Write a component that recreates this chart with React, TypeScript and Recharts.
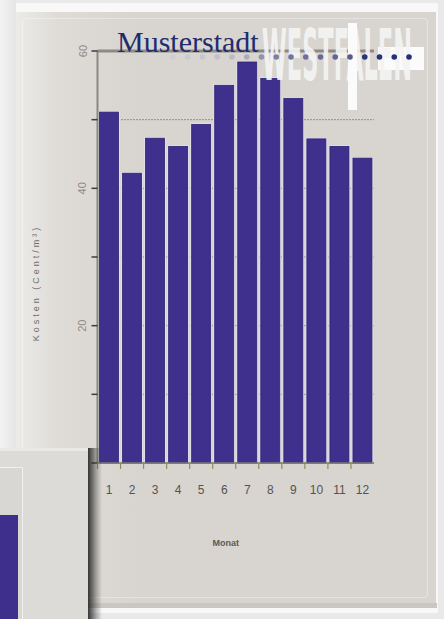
import { Bar, BarChart, CartesianGrid, Label, ReferenceLine, XAxis, YAxis } from 'recharts';

// monthly values
const months = ['1', '2', '3', '4', '5', '6', '7', '8', '9', '10', '11', '12'];
const costs = [51.1, 42.2, 47.3, 46.1, 49.3, 55.0, 58.4, 56.0, 53.1, 47.2, 46.1, 44.4];
const yTicks = [0, 10, 20, 30, 40, 50, 60];
const yLabelTicks = [20, 40, 60];

const data = months.map((m, i) => ({ month: m, cost: costs[i] }));

// decorative dot row of the logo
const dotColors = [
  '#cfcdd2', '#cbc9cf', '#c7c5cd', '#c2c0cb', '#bcbac8', '#acaabe', '#9391b1', '#7f7da5',
  '#76749f', '#706e9b', '#6a6897', '#636292', '#5a5a8d', '#29347b', '#263279', '#253179', '#243078',
];

const BarShape = (props: any) => {
  const { x, y, width, height } = props;
  return (
    <g>
      <rect x={x - 1.3} y={y - 1} width={width + 2.6} height={height + 1} fill='#e3e1ee' />
      <rect x={x} y={y} width={width} height={height} fill='#40308d' stroke='#2d2373' strokeWidth={0.8} />
    </g>
  );
};

const YTick = (props: any) => {
  const { x, y, payload } = props;
  if (!yLabelTicks.includes(payload.value)) return null;
  const tx = x - 3;
  return (
    <text
      x={tx}
      y={y}
      transform={`rotate(-90 ${tx} ${y})`}
      textAnchor='middle'
      fontSize={11}
      fontFamily='Liberation Sans, Arial, sans-serif'
      fill='#8d8b88'
    >
      {payload.value}
    </text>
  );
};

const XTick = (props: any) => {
  const { x, y, payload } = props;
  const half = payload.offset ?? 11.5;
  return (
    <g>
      <line x1={x - half} x2={x - half} y1={y - 8} y2={y - 2} stroke='#8f8d5c' strokeWidth={1.2} />
      <text
        x={x}
        y={y + 23}
        textAnchor='middle'
        fontSize={12}
        fontFamily='Liberation Sans, Arial, sans-serif'
        fill='#55534f'
      >
        {payload.value}
      </text>
    </g>
  );
};

const YLabel = (props: any) => {
  const { viewBox } = props;
  const cx = viewBox.x + 21;
  const cy = viewBox.y + viewBox.height / 2 + 26;
  return (
    <text
      x={cx}
      y={cy}
      transform={`rotate(-90 ${cx} ${cy})`}
      textAnchor='middle'
      fontSize={9}
      letterSpacing={3}
      fontFamily='Liberation Sans, Arial, sans-serif'
      fill='#6f6d68'
    >
      Kosten (Cent/m³)
    </text>
  );
};

export default function App() {
  return (
    <div
      style={{
        position: 'absolute',
        left: 0,
        top: 0,
        width: 444,
        height: 619,
        overflow: 'hidden',
        background: '#e9e9e9',
      }}
    >
      <div style={{ position: 'absolute', left: 0, top: 0, width: 16, height: 619, background: 'linear-gradient(90deg,#f3f3f3,#e4e4e4)' }} />
      <div style={{ position: 'absolute', left: 16, top: 3, width: 422, height: 610, background: '#f8f8f8' }} />
      <div
        style={{
          position: 'absolute',
          left: 16,
          top: 12,
          width: 420,
          height: 591,
          background: 'linear-gradient(90deg,#ecebe8 0px,#dfdcd8 40px,#d8d5d1 120px,#d8d5d1 100%)',
        }}
      />
      <div style={{ position: 'absolute', left: 16, top: 603, width: 421, height: 5, background: '#cac7c3' }} />
      <div
        style={{
          position: 'absolute',
          left: 22,
          top: 18,
          width: 404,
          height: 578,
          border: '1px solid rgba(255,255,255,0.35)',
          borderRadius: 4,
        }}
      />

      <div style={{ position: 'absolute', left: 0, top: 0 }}>
        <BarChart
          width={444}
          height={619}
          data={data}
          barCategoryGap={2}
          margin={{ top: 51, right: 70, bottom: 56, left: 17.5 }}
        >
          <CartesianGrid vertical={false} stroke='#4a4845' strokeDasharray='1 2' />
          <XAxis
            dataKey='month'
            height={100}
            axisLine={{ stroke: '#7d7a76', strokeWidth: 1.5 }}
            tickLine={false}
            tick={<XTick />}
            interval={0}
          >
            <Label
              value='Monat'
              position='insideBottom'
              offset={17}
              dx={-10}
              fontSize={9}
              fontWeight='bold'
              fontFamily='Liberation Sans, Arial, sans-serif'
              fill='#5a5854'
            />
          </XAxis>
          <YAxis
            width={80}
            domain={[0, 60]}
            ticks={yTicks}
            interval={0}
            axisLine={{ stroke: '#8a8782', strokeWidth: 2 }}
            tickLine={{ stroke: '#3d3b38', strokeWidth: 1.5 }}
            tickSize={6}
            tick={<YTick />}
          >
            <Label content={<YLabel />} />
          </YAxis>
          <YAxis
            yAxisId='r'
            orientation='right'
            width={0}
            domain={[0, 60]}
            tick={false}
            tickLine={false}
            axisLine={{ stroke: '#a8a49f', strokeWidth: 1 }}
          />
          <ReferenceLine y={60} stroke='#8d8984' strokeWidth={3} />
          <Bar dataKey='cost' shape={<BarShape />} isAnimationActive={false} />
        </BarChart>
      </div>

      <svg
        width={444}
        height={619}
        style={{ position: 'absolute', left: 0, top: 0, pointerEvents: 'none' }}
      >
        <text
          x={117}
          y={52}
          fontSize={30}
          fontFamily='Liberation Serif, Times New Roman, serif'
          fill='#1f2c6d'
        >
          Musterstadt
        </text>
        <rect x={378} y={47} width={46} height={23} fill='#fbfbfb' />
        <g transform='translate(262 80) scale(0.4 1)'>
          <text
            x={0}
            y={0}
            fontSize={71}
            fontWeight='bold'
            fontFamily='DejaVu Sans Condensed, DejaVu Sans, sans-serif'
            textLength={375}
            lengthAdjust='spacingAndGlyphs'
            fill='#f4f4f4'
            fillOpacity={0.93}
          >
            WESTFALEN
          </text>
        </g>
        <rect x={348} y={23} width={9} height={87} fill='#fbfbfb' />
        {dotColors.map((c, i) => (
          <circle key={i} cx={173 + i * 14.75} cy={57} r={2.8} fill={c} />
        ))}
      </svg>

      <div style={{ position: 'absolute', left: 0, top: 448, width: 88, height: 171, background: '#dddbd8', borderTop: '3px solid #ebe9e6' }}>
        <div
          style={{
            position: 'absolute',
            left: 0,
            top: 16,
            width: 22,
            height: 160,
            borderRight: '1px solid #f1f0ee',
            borderTop: '1px solid #f1f0ee',
            background: '#d9d7d4',
          }}
        />
        <div style={{ position: 'absolute', left: 0, top: 64, width: 18, height: 110, background: '#3e2f8c' }} />
      </div>
      <div
        style={{
          position: 'absolute',
          left: 88,
          top: 448,
          width: 14,
          height: 171,
          background: 'linear-gradient(90deg, rgba(35,35,35,0.9), rgba(60,60,60,0.35) 60%, rgba(80,80,80,0))',
        }}
      />
    </div>
  );
}
